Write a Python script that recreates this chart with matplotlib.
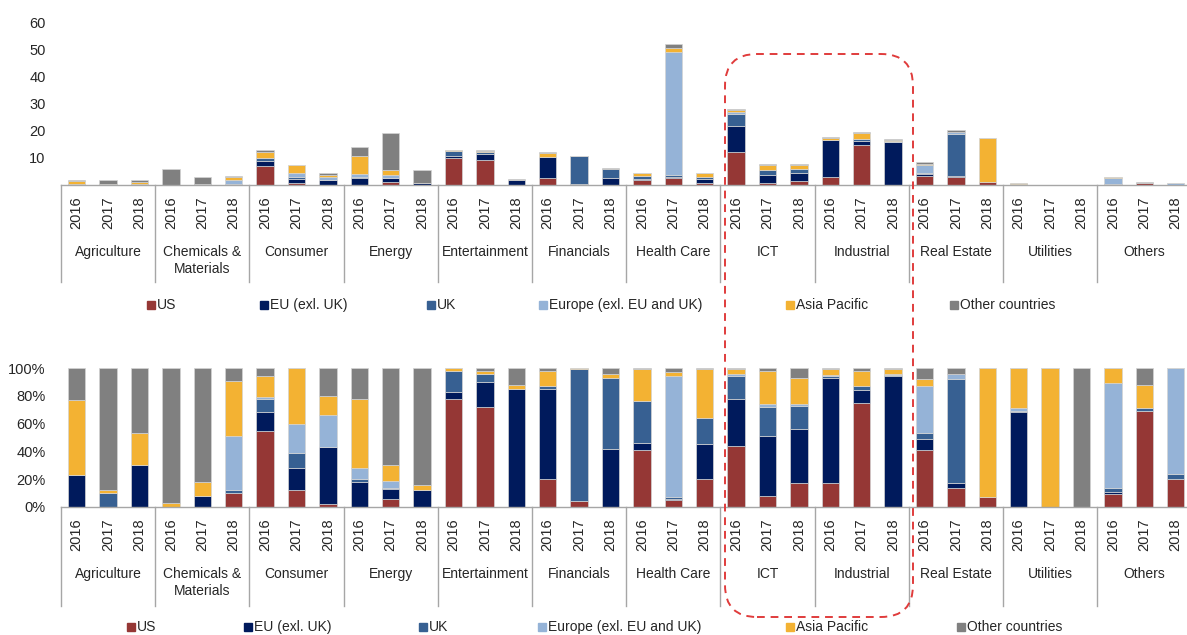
import numpy as np
import matplotlib.pyplot as plt
import matplotlib.transforms as mtransforms
from matplotlib.patches import FancyBboxPatch, Rectangle

plt.rcParams['font.family'] = ['Liberation Sans', 'DejaVu Sans']

sectors = ['Agriculture', 'Chemicals &\nMaterials', 'Consumer', 'Energy', 'Entertainment',
           'Financials', 'Health Care', 'ICT', 'Industrial', 'Real Estate', 'Utilities', 'Others']
years = ['2016', '2017', '2018']
regions = ['US', 'EU (exl. UK)', 'UK', 'Europe (exl. EU and UK)', 'Asia Pacific', 'Other countries']
colors = ['#953735', '#001a5c', '#376092', '#95b3d7', '#f3b233', '#808080']

# total value per sector/year (top panel)
totals = [1.8, 1.8, 1.8, 5.8, 2.8, 3.3, 12.8, 7.3, 4.6, 13.9, 19.1, 5.5,
          12.8, 12.8, 2.3, 12.1, 10.7, 6.2, 4.6, 52.2, 4.6, 28.1, 7.6, 7.9,
          17.7, 19.5, 16.9, 8.4, 20.3, 17.5, 0.7, 0.1, 0.1, 2.8, 1.0, 0.6]

# share of each region in %, per sector/year (bottom panel)
us_share = [0, 0, 0, 0, 0, 10, 55, 12, 2, 0, 6, 0, 78, 72, 0, 20, 4, 0,
            41, 5, 20, 44, 8, 17, 17, 75, 0, 41, 14, 7, 0, 0, 0, 9, 69, 20]
eu_share = [23, 0, 30, 0, 8, 0, 13, 16, 41, 18, 7, 12, 5, 18, 85, 65, 0, 42,
            5, 1, 25, 34, 43, 39, 76, 9, 94, 8, 3, 0, 68, 0, 0, 2, 0, 0]
uk_share = [0, 10, 0, 0, 0, 2, 10, 11, 0, 2, 1, 0, 15, 6, 0, 2, 95, 51,
            30, 1, 19, 16, 21, 17, 1, 3, 1, 4, 75, 0, 1, 0, 0, 3, 2, 4]
europe_share = [0, 0, 0, 0, 0, 39, 1, 21, 23, 8, 5, 0, 0, 0, 0, 0, 0, 0,
                0, 87, 0, 2, 2, 1, 1, 0, 1, 34, 4, 0, 2, 0, 0, 75, 0, 76]
asia_share = [54, 2, 23, 3, 10, 40, 15, 40, 14, 50, 11, 4, 2, 2, 3, 11, 1, 3,
              23, 3, 35, 3, 24, 19, 4, 11, 3, 5, 0, 93, 29, 100, 0, 11, 17, 0]
other_share = [23, 88, 47, 97, 82, 9, 6, 0, 20, 22, 70, 84, 0, 2, 12, 2, 0, 4,
               1, 3, 1, 1, 2, 7, 1, 2, 1, 8, 4, 0, 0, 0, 100, 0, 12, 0]

shares = np.array([us_share, eu_share, uk_share, europe_share, asia_share, other_share], dtype=float)
shares = shares / shares.sum(axis=0) * 100
values = shares * np.array(totals) / 100

W, H = 1187, 635
fig = plt.figure(figsize=(W / 100, H / 100), dpi=100)
txt_color = '#262626'
fs = 10

x = np.arange(len(totals))
left = 61 / W
width = 36 * 31.4 / W
ax_top = fig.add_axes([left, 1 - 185 / H, width, (185 - 22.7) / H])
ax_bot = fig.add_axes([left, 1 - 507 / H, width, (507 - 368) / H])


def draw_panel(ax, data, sep_len, ylim, yticks, ylabels):
    bottom = np.zeros(len(x))
    for k in range(len(regions)):
        ax.bar(x, data[k], 0.56, bottom=bottom, color=colors[k],
               edgecolor='#d4d4d4', linewidth=0.5)
        bottom += data[k]
    ax.set_xlim(-0.5, len(x) - 0.5)
    ax.set_ylim(*ylim)
    ax.set_yticks(yticks)
    ax.set_yticklabels(ylabels, fontsize=fs + 0.5, color=txt_color)
    ax.tick_params(axis='y', length=0, pad=11)
    ax.set_xticks([])
    for s in ['top', 'right', 'left']:
        ax.spines[s].set_visible(False)
    ax.spines['bottom'].set_color('#a6a6a6')
    ax.spines['bottom'].set_linewidth(1.0)

    ax_h = ax.get_position().height * H
    trans = mtransforms.blended_transform_factory(ax.transData, ax.transAxes)
    for g in range(len(sectors) + 1):
        xs = g * 3 - 0.5
        ax.plot([xs, xs], [0, -sep_len / ax_h], color='#a6a6a6', lw=1.0,
                transform=trans, clip_on=False)
    for i in x:
        ax.annotate(years[i % 3], xy=(i, 0), xycoords=trans, xytext=(0, -28),
                    textcoords='offset pixels', rotation=90, ha='center', va='center',
                    fontsize=fs + 0.5, color=txt_color)
    for g, name in enumerate(sectors):
        ax.annotate(name, xy=(g * 3 + 1, 0), xycoords=trans, xytext=(0, -60),
                    textcoords='offset pixels', ha='center', va='top',
                    fontsize=fs, color=txt_color, linespacing=1.25)


draw_panel(ax_top, values, 97, (0, 60), [10, 20, 30, 40, 50, 60],
           ['10', '20', '30', '40', '50', '60'])
draw_panel(ax_bot, shares, 99, (0, 100), [0, 20, 40, 60, 80, 100],
           ['0%', '20%', '40%', '60%', '80%', '100%'])


def legend_row(y_px, x_px):
    for k, name in enumerate(regions):
        fig.add_artist(Rectangle(((x_px[k] - 10) / W, 1 - (y_px + 4) / H), 8 / W, 8 / H,
                                 transform=fig.transFigure, color=colors[k]))
        fig.text(x_px[k] / W, 1 - y_px / H, name, ha='left', va='center',
                 fontsize=fs, color=txt_color)


legend_row(305, [157, 270, 437, 549, 796, 960])
legend_row(627, [137, 254, 429, 548, 796, 967])

# dashed highlight around ICT and Industrial
box = FancyBboxPatch((7.25, 0.18), 1.88, 5.63,
                     boxstyle='round,pad=0,rounding_size=0.32',
                     transform=fig.dpi_scale_trans, fill=False,
                     edgecolor='#e03c3c', linestyle=(0, (4, 3)), linewidth=1.4)
fig.add_artist(box)

fig.savefig('out.png', dpi=100)
